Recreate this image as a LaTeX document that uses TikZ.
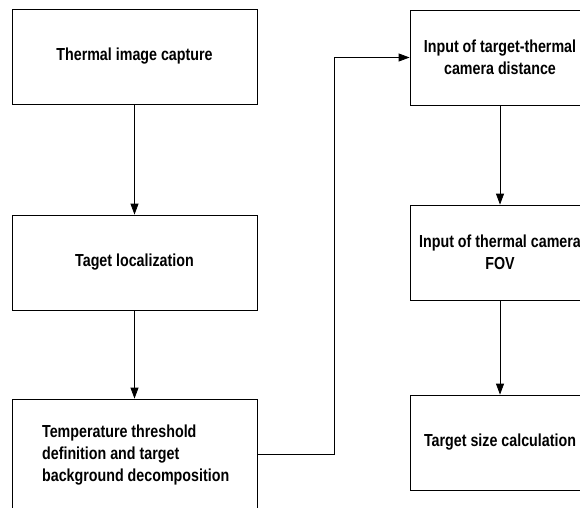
\documentclass[tikz,border=0pt]{standalone}
\usepackage{fontspec}
\setmainfont{Liberation Sans}[FakeStretch=0.82]
\usetikzlibrary{arrows.meta}
\usetikzlibrary{positioning}
\begin{document}
\begin{tikzpicture}[x=1pt, y=1pt,
    box/.style={draw, line width=0.8pt, minimum width=245pt, minimum height=95pt, align=center,
      font=\fontsize{17.4}{22}\selectfont\bfseries},
    rbox/.style={box, minimum width=180pt},
    flow/.style={draw, line width=0.8pt, -{Triangle[width=8pt,length=11pt]}}]
	  \useasboundingbox (0,0) rectangle (580,507);
	  % left column
	  \node[box] (capture) at (134.5,450.5) {Thermal image capture};
	  \node[box] (local) at (134.5,244.5) {Taget localization};
	  \node[box, minimum height=110pt] (decomp) at (134.5,53) {};
	  \node[anchor=west, align=left, font=\fontsize{17.4}{22}\selectfont\bfseries]
	    (decomptext) at ([xshift=27pt, yshift=-1pt]decomp.west)
	    {Temperature threshold\\definition and target\\background decomposition};
	  % right column
	  \node[rbox] (dist) at (500,449.5) {Input of target-thermal\\camera distance};
	  \node[rbox] (fov) at (500,254.5) {Input of thermal camera\\FOV};
	  \node[rbox] (size) at (500,64.5) {Target size calculation};
	  
	  \draw[flow] (capture) -- (local);
	  \draw[flow] (local) -- (decomp);
	  \draw[flow] (decomp.east) -- ++(77,0) |- (dist.west);
	  \draw[flow] (dist) -- (fov);
	  \draw[flow] (fov) -- (size);
	\end{tikzpicture}
\end{document}
